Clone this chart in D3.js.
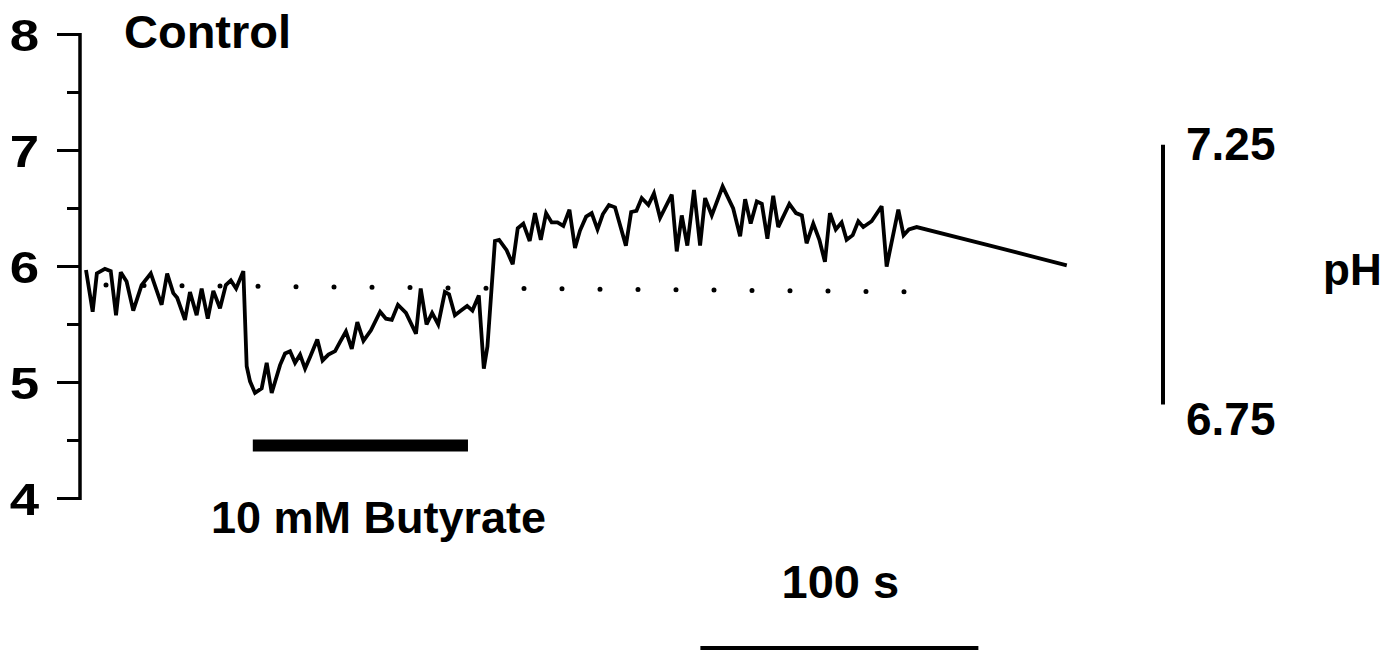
<!DOCTYPE html>
<html>
<head>
<meta charset="utf-8">
<script src="https://cdn.jsdelivr.net/npm/d3@7"></script>
<style>
  html, body { margin: 0; padding: 0; background: #fff; }
  svg { display: block; }
  text { font-family: "Liberation Sans", Arial, Helvetica, sans-serif; font-weight: bold; fill: #000; }
</style>
</head>
<body>
<svg id="chart" width="1390" height="654"></svg>
<script>
// Recording time (s) and fluorescence signal of the control cell
const times = [0,2.4,3.9,6.8,8.9,10.8,12.5,14.6,17.0,20.0,
  23.3,27.2,29.2,31.4,32.8,35.6,37.4,39.8,41.6,43.8,
  45.8,48.2,50.3,52.1,54.0,56.6,57.8,59.0,60.8,63.2,
  65.0,66.8,69.8,71.6,73.4,75.2,77.0,78.8,80.6,83.2,
  85.1,87.2,89.6,91.4,93.5,95.6,97.6,99.8,102.5,105.8,
  107.9,110.0,112.2,115.1,118.7,120.4,122.5,124.5,126.7,129.1,
  130.6,132.7,134.9,137.1,139.0,141.3,143.1,144.4,147.1,148.6,
  151.3,153.5,155.3,157.3,159.6,161.5,163.6,165.5,167.5,169.6,
  171.7,173.9,175.9,177.7,179.9,181.9,184.0,185.9,188.1,190.3,
  194.2,196.1,198.0,199.9,202.3,204.3,206.5,210.7,212.5,214.3,
  216.3,218.7,220.9,222.7,225.1,229.0,232.8,235.3,237.1,239.1,
  241.3,243.1,245.1,247.2,249.0,253.0,255.4,257.5,259.2,261.6,
  263.8,265.8,267.6,269.7,271.8,273.6,275.8,277.8,279.6,282.6,
  286.2,288.0,292.2,294.1,296.0,298.8,325.2,352.8];

const values = [5.97,5.61,5.94,5.98,5.96,5.58,5.95,5.87,5.62,5.84,
  5.94,5.67,5.94,5.77,5.73,5.54,5.78,5.58,5.81,5.55,
  5.79,5.64,5.84,5.88,5.81,5.96,5.14,5.01,4.91,4.95,
  5.17,4.91,5.15,5.25,5.27,5.17,5.24,5.12,5.22,5.37,
  5.19,5.24,5.27,5.35,5.44,5.29,5.52,5.36,5.45,5.61,
  5.55,5.54,5.67,5.60,5.42,5.81,5.50,5.60,5.50,5.78,
  5.76,5.58,5.62,5.66,5.62,5.75,5.12,5.31,6.22,6.23,
  6.14,6.02,6.33,6.37,6.22,6.46,6.23,6.46,6.38,6.38,
  6.35,6.49,6.16,6.31,6.43,6.46,6.32,6.45,6.53,6.51,
  6.18,6.47,6.48,6.59,6.53,6.63,6.42,6.62,6.13,6.44,
  6.18,6.66,6.18,6.59,6.44,6.69,6.50,6.26,6.58,6.37,
  6.56,6.54,6.24,6.61,6.34,6.54,6.46,6.44,6.20,6.37,
  6.23,6.04,6.46,6.32,6.38,6.23,6.27,6.39,6.34,6.39,
  6.52,6.00,6.49,6.27,6.32,6.34,6.18,6.01];

// Axis ticks
const yTicks = [4, 5, 6, 7, 8];
const yMinorTicks = [4.5, 5.5, 6.5, 7.5];

// Dotted resting baseline (start / end)
const baselineTimes = [7.2, 307.9];
const baselineValues = [5.84, 5.78];

// Butyrate application period (s)
const butyratePeriod = [60, 137.4];
const butyrateLabel = "10 mM Butyrate";

// Time calibration bar (s)
const timeBar = [221, 321];
const timeBarLabel = "100 s";

// pH calibration bar: ends in signal units and their pH labels
const phBarValues = [7.05, 4.81];
const phBarLabels = ["7.25", "6.75"];
const phUnit = "pH";

const title = "Control";

const svg = d3.select("#chart");

const x = d3.scaleLinear().domain([0, 100]).range([86, 364]);
const y = d3.scaleLinear().domain([4, 8]).range([498.5, 34.5]);

// Left axis
const axisX = 80;
const axis = svg.append("g");
axis.append("line")
  .attr("x1", axisX).attr("x2", axisX)
  .attr("y1", y(8) - 1.5).attr("y2", y(4) + 1.5)
  .attr("stroke", "#000").attr("stroke-width", 3.5);
axis.selectAll(".major").data(yTicks).join("line")
  .attr("x1", 57).attr("x2", axisX)
  .attr("y1", d => y(d)).attr("y2", d => y(d))
  .attr("stroke", "#000").attr("stroke-width", 3);
axis.selectAll(".minor").data(yMinorTicks).join("line")
  .attr("x1", 67).attr("x2", axisX)
  .attr("y1", d => y(d)).attr("y2", d => y(d))
  .attr("stroke", "#000").attr("stroke-width", 3);
axis.selectAll(".lab").data(yTicks).join("text")
  .attr("transform", d => `translate(24.5, ${y(d) + 16}) scale(1.2, 1)`)
  .attr("text-anchor", "middle")
  .attr("font-size", 44)
  .text(d => d);

// Title
svg.append("text")
  .attr("x", 124).attr("y", 48)
  .attr("font-size", 47)
  .text(title);

// Dotted baseline
svg.append("line")
  .attr("x1", x(baselineTimes[0])).attr("y1", y(baselineValues[0]))
  .attr("x2", x(baselineTimes[1])).attr("y2", y(baselineValues[1]))
  .attr("stroke", "#000").attr("stroke-width", 5)
  .attr("stroke-linecap", "round")
  .attr("stroke-dasharray", "0 38.0");

// Trace
const points = times.map((t, i) => [t, values[i]]);
svg.append("path")
  .datum(points)
  .attr("d", d3.line().x(d => x(d[0])).y(d => y(d[1])))
  .attr("fill", "none")
  .attr("stroke", "#000")
  .attr("stroke-width", 3.8)
  .attr("stroke-linejoin", "miter")
  .attr("stroke-miterlimit", 3);

// Butyrate bar
svg.append("rect")
  .attr("x", x(butyratePeriod[0])).attr("y", 439.5)
  .attr("width", x(butyratePeriod[1]) - x(butyratePeriod[0]))
  .attr("height", 12)
  .attr("fill", "#000");
svg.append("text")
  .attr("x", 211).attr("y", 533)
  .attr("font-size", 45)
  .text(butyrateLabel);

// Time calibration bar
svg.append("line")
  .attr("x1", x(timeBar[0])).attr("x2", x(timeBar[1]))
  .attr("y1", 648).attr("y2", 648)
  .attr("stroke", "#000").attr("stroke-width", 4);
svg.append("text")
  .attr("x", (x(timeBar[0]) + x(timeBar[1])) / 2 + 1).attr("y", 598)
  .attr("text-anchor", "middle")
  .attr("font-size", 47)
  .text(timeBarLabel);

// pH calibration bar
const phX = 1163;
svg.append("line")
  .attr("x1", phX).attr("x2", phX)
  .attr("y1", y(phBarValues[0])).attr("y2", y(phBarValues[1]))
  .attr("stroke", "#000").attr("stroke-width", 4);
svg.append("text")
  .attr("x", 1186).attr("y", y(phBarValues[0]) + 15)
  .attr("font-size", 46)
  .text(phBarLabels[0]);
svg.append("text")
  .attr("x", 1186).attr("y", y(phBarValues[1]) + 30)
  .attr("font-size", 46)
  .text(phBarLabels[1]);
svg.append("text")
  .attr("x", 1323).attr("y", 285)
  .attr("font-size", 44)
  .text(phUnit);
</script>
</body>
</html>
